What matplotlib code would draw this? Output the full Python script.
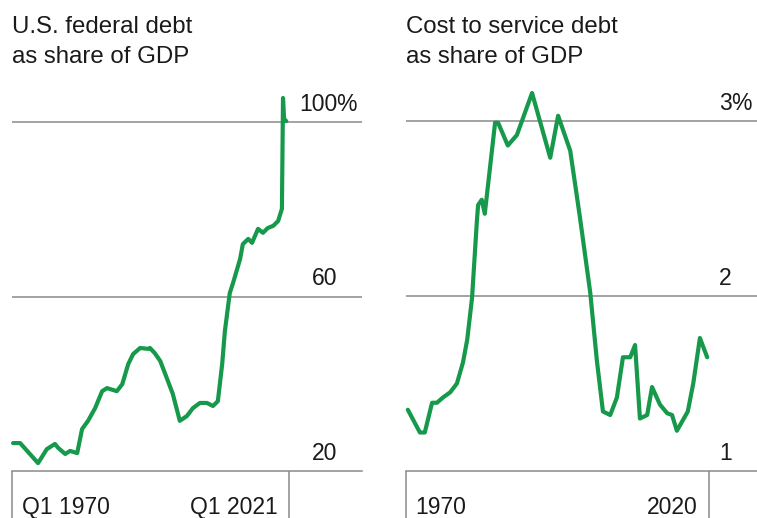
import numpy as np
import matplotlib
matplotlib.use("Agg")
import matplotlib.pyplot as plt

plt.rcParams['font.family'] = ['Liberation Sans', 'DejaVu Sans']

# --- data ---
# Left: U.S. federal debt as share of GDP (%), quarterly-ish samples
debt_years = [1970.2, 1971.5, 1972.0, 1973.3, 1974.8, 1976.4, 1977.9, 1978.5, 1979.8,
              1980.7, 1982.0, 1982.9, 1984.0, 1985.3, 1986.6, 1987.5, 1989.3, 1990.3,
              1991.4, 1992.3, 1993.6, 1995.0, 1995.4, 1996.3, 1997.3, 1998.5, 1999.6,
              2000.9, 2002.2, 2003.3, 2004.6, 2005.9, 2007.0, 2007.9, 2008.7, 2009.2,
              2010.1, 2010.7, 2012.0, 2012.5, 2013.5, 2014.2, 2015.3, 2016.2, 2017.1,
              2018.1, 2019.0, 2019.7, 2019.9, 2020.1, 2020.5]
debt_pct = [26.4, 26.4, 25.7, 23.9, 21.8, 25.0, 26.2, 25.3, 23.9,
            24.6, 24.1, 29.6, 31.5, 34.4, 38.3, 39.0, 38.3, 39.9,
            44.5, 46.8, 48.2, 48.0, 48.2, 47.0, 45.2, 41.3, 37.7,
            31.5, 32.6, 34.4, 35.6, 35.6, 34.9, 36.0, 44.5, 52.1,
            60.8, 63.1, 68.6, 72.0, 73.2, 72.3, 75.5, 74.6, 75.7,
            76.2, 77.3, 80.1, 105.5, 100.7, 100.2]

# Right: cost to service debt as share of GDP (%)
cost_years = [1970.3, 1972.3, 1973.1, 1974.3, 1975.1, 1976.1, 1977.3, 1978.4, 1979.4,
              1980.1, 1980.9, 1981.7, 1981.9, 1982.5, 1983.0, 1984.7, 1985.2, 1986.8,
              1988.3, 1990.8, 1993.8, 1995.1, 1997.1, 1998.7, 2000.4, 2001.5, 2002.5,
              2003.7, 2004.8, 2005.8, 2007.0, 2007.8, 2008.6, 2009.8, 2010.6, 2011.9,
              2013.1, 2013.9, 2014.7, 2016.5, 2017.4, 2018.5, 2019.7]
cost_pct = [1.35, 1.22, 1.22, 1.39, 1.39, 1.42, 1.45, 1.50, 1.62,
            1.75, 1.99, 2.43, 2.52, 2.55, 2.47, 2.99, 2.99, 2.86,
            2.92, 3.16, 2.79, 3.03, 2.83, 2.45, 2.02, 1.63, 1.34,
            1.32, 1.42, 1.65, 1.65, 1.72, 1.30, 1.32, 1.48, 1.38,
            1.33, 1.32, 1.23, 1.34, 1.50, 1.76, 1.65]

debt_grid = [20, 60, 100]
debt_labels = ["20", "60", "100"]
debt_ticks = [1970, 2021]
debt_ticklabels = ["Q1 1970", "Q1 2021"]

cost_grid = [1, 2, 3]
cost_labels = ["1", "2", "3"]
cost_ticks = [1970, 2020]
cost_ticklabels = ["1970", "2020"]

GREEN = "#16994a"
GRID = "#8a8a8a"
TXT = "#1a1a1a"
FS = 16.5      # axis labels
FS_T = 17.3    # titles

W, H = 757, 518
fig = plt.figure(figsize=(W / 100, H / 100), dpi=100)
fig.patch.set_facecolor("white")


def panel(left_px, width_px, x, y, xlim, ylim, grid, labels, ticks, ticklabels, title):
    ax = fig.add_axes([left_px / W, (H - 471) / H, width_px / W, (471 - 85) / H])
    ax.plot(x, y, color=GREEN, lw=3.0, solid_joinstyle="round", solid_capstyle="round",
            zorder=3, clip_on=False)
    ax.set_xlim(*xlim)
    ax.set_ylim(*ylim)
    for s in ["top", "left", "right"]:
        ax.spines[s].set_visible(False)
    ax.spines["bottom"].set_color(GRID)
    ax.spines["bottom"].set_linewidth(1.1)
    for g in grid[1:]:
        ax.axhline(g, color=GRID, lw=1.1, zorder=1)
    ax.set_yticks([])
    ax.set_xticks(ticks)
    ax.set_xticklabels([])
    ax.tick_params(axis="x", length=34, width=1.1, color=GRID, direction="out")
    # value labels, digits right-aligned and % hanging after the top one
    for i, (g, lab) in enumerate(zip(grid, labels)):
        ax.annotate(lab, xy=(0.9286, g), xycoords=("axes fraction", "data"),
                    xytext=(0, 8), textcoords="offset points",
                    ha="right", va="baseline", fontsize=FS, color=TXT)
        if i == len(grid) - 1:
            ax.annotate("%", xy=(0.9286, g), xycoords=("axes fraction", "data"),
                        xytext=(-0.6, 8), textcoords="offset points",
                        ha="left", va="baseline", fontsize=FS, color=TXT)
    # x labels sit inside the two tick lines
    ax.annotate(ticklabels[0], xy=(ticks[0], 0), xycoords=("data", "axes fraction"),
                xytext=(7, -31), textcoords="offset points",
                ha="left", va="baseline", fontsize=FS, color=TXT, annotation_clip=False)
    ax.annotate(ticklabels[1], xy=(ticks[1], 0), xycoords=("data", "axes fraction"),
                xytext=(-8, -31), textcoords="offset points",
                ha="right", va="baseline", fontsize=FS, color=TXT, annotation_clip=False)
    fig.text(left_px / W, 1 - 33 / H, title[0], fontsize=FS_T, color=TXT, va="baseline")
    fig.text(left_px / W, 1 - 63 / H, title[1], fontsize=FS_T, color=TXT, va="baseline")
    return ax


panel(12, 350, debt_years, debt_pct,
      (1970, 1970 + (362 - 12) / 5.431),
      (20, 20 + (471 - 85) / 4.3625),
      debt_grid, debt_labels, debt_ticks, debt_ticklabels,
      ["U.S. federal debt", "as share of GDP"])

panel(406, 351, cost_years, cost_pct,
      (1970, 1970 + 351 / 6.06),
      (1, 1 + (471 - 85) / 175),
      cost_grid, cost_labels, cost_ticks, cost_ticklabels,
      ["Cost to service debt", "as share of GDP"])

fig.savefig("out.png", dpi=100, facecolor="white")
